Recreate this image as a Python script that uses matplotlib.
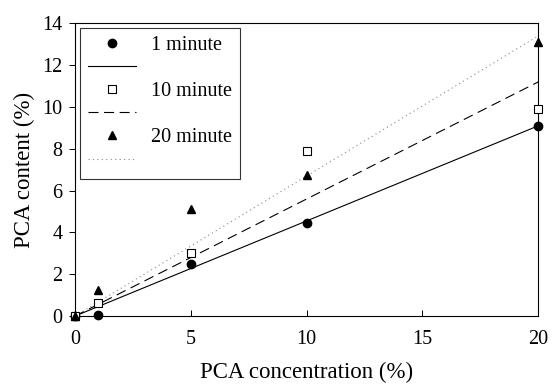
import numpy as np
import matplotlib
matplotlib.use("Agg")
import matplotlib.pyplot as plt
from matplotlib.lines import Line2D

plt.rcParams['font.family'] = ['Liberation Serif', 'DejaVu Serif']

conc = [0, 1, 5, 10, 20]
min1 = [0, 0.05, 2.5, 4.45, 9.1]
min10 = [0, 0.6, 3.0, 7.9, 9.9]
min20 = [0, 1.25, 5.1, 6.75, 13.1]

# fitted lines (through origin), value at 20 %
fit_x = [0, 20]
fit1 = [0, 9.1]
fit10 = [0, 11.2]
fit20 = [0, 13.4]

labels = ["1 minute", "10 minute", "20 minute"]

fig = plt.figure(figsize=(5.52, 3.84), dpi=100)
ax = fig.add_axes([0.136, 0.177, 0.839, 0.762])

ax.plot(fit_x, fit1, color='black', lw=0.8, ls='-')
ax.plot(fit_x, fit10, color='black', lw=0.8, ls=(0, (9, 5)))
ax.plot(fit_x, fit20, color='#888888', lw=0.8, ls=(0, (1, 3)))

ax.plot(conc, min1, 'o', color='black', ms=6, clip_on=False, zorder=5)
ax.plot(conc, min10, 's', mfc='white', mec='black', mew=0.8, ms=5.5, clip_on=False, zorder=5)
ax.plot(conc, min20, '^', color='black', ms=6, clip_on=False, zorder=5)

ax.set_xlim(0, 20)
ax.set_ylim(0, 14)
ax.set_xticks([0, 5, 10, 15, 20])
ax.set_yticks(range(0, 15, 2))
ax.tick_params(axis='x', direction='in', length=4, width=0.7, labelsize=14.5, pad=10)
ax.tick_params(axis='y', direction='out', length=4, width=0.7, labelsize=14.5, pad=5)
for s in ax.spines.values():
    s.set_linewidth(0.8)

ax.set_xlabel("PCA concentration (%)", fontsize=16.5, labelpad=9)
ax.set_ylabel("PCA content (%)", fontsize=16.5, labelpad=5)

handles = [
    Line2D([], [], marker='o', color='black', ls='none', ms=6),
    Line2D([], [], color='black', lw=0.8),
    Line2D([], [], marker='s', mfc='white', mec='black', ls='none', ms=5.5, mew=0.8),
    Line2D([], [], color='black', lw=0.8, ls=(0, (9, 5))),
    Line2D([], [], marker='^', color='black', ls='none', ms=6),
    Line2D([], [], color='#888888', lw=0.8, ls=(0, (1, 3))),
]
leg_labels = [labels[0], " ", labels[1], " ", labels[2], " "]
leg = ax.legend(handles, leg_labels, loc='upper left', bbox_to_anchor=(0.011, 0.985),
                fontsize=14.5, frameon=True, fancybox=False, edgecolor='black',
                handlelength=2.35, handletextpad=0.75, labelspacing=0.2,
                borderpad=0.4, borderaxespad=0.0)
leg.get_frame().set_linewidth(0.8)

fig.savefig("out.png", dpi=100)
